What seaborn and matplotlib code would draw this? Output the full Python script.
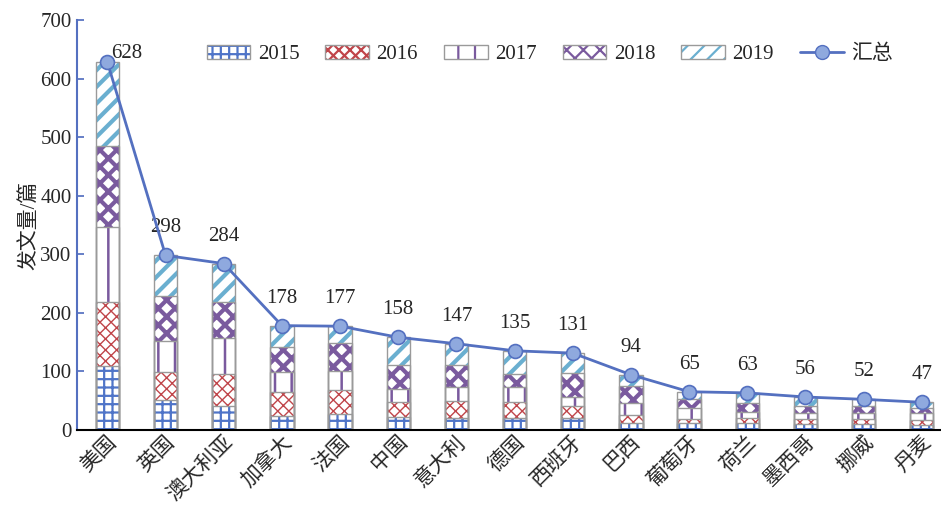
import numpy as np
import matplotlib
matplotlib.use("Agg")
import matplotlib.pyplot as plt
from matplotlib.patches import Patch
from matplotlib.lines import Line2D
from matplotlib.legend_handler import HandlerTuple
import seaborn as sns

countries = ["美国", "英国", "澳大利亚", "加拿大", "法国", "中国", "意大利", "德国",
             "西班牙", "巴西", "葡萄牙", "荷兰", "墨西哥", "挪威", "丹麦"]
years = ["2015", "2016", "2017", "2018", "2019"]
y2015 = [109, 51, 41, 23, 27, 21, 20, 20, 20, 12, 11, 11, 9, 10, 8]
y2016 = [110, 48, 55, 41, 41, 26, 30, 27, 20, 14, 7, 9, 9, 8, 8]
y2017 = [128, 53, 61, 35, 33, 23, 23, 26, 16, 19, 19, 11, 11, 10, 12]
y2018 = [138, 77, 61, 43, 47, 41, 38, 23, 41, 29, 15, 14, 11, 12, 10]
y2019 = [143, 69, 66, 36, 29, 47, 36, 39, 34, 20, 13, 18, 16, 12, 9]
total = [628, 298, 284, 178, 177, 158, 147, 135, 131, 94, 65, 63, 56, 52, 47]
total_label = "汇总"
ylabel = "发文量/篇"

sns.set_theme(style="white")
plt.rcParams["font.family"] = ["Liberation Serif", "Noto Sans CJK SC", "DejaVu Sans"]
plt.rcParams["hatch.linewidth"] = 1.6

FS = 15
series = [y2015, y2016, y2017, y2018, y2019]
colors = ["#4F74C8", "#C0454A", "#7A5A9E", "#7A5A9E", "#6AAFD0"]
hatches = ["++", "xxx", "|", "xx", "//"]
hlw = [1.6, 1.0, 1.8, 3.0, 3.0]
outline = "#9A9A9A"

fig = plt.figure(figsize=(9.41, 5.05), dpi=100)
ax = fig.add_axes([0.082, 0.149, 0.918, 0.811])

cum = np.cumsum(np.array(series), axis=0)
for i in range(len(series) - 1, -1, -1):
    with plt.rc_context({"hatch.linewidth": hlw[i]}):
        sns.barplot(x=countries, y=cum[i], color="white", saturation=1,
                    edgecolor=colors[i], linewidth=0, hatch=hatches[i],
                    width=0.4, errorbar=None, ax=ax)
for i in range(len(series)):
    sns.barplot(x=countries, y=cum[i], fill=False, edgecolor=outline,
                linewidth=1.0, width=0.4, errorbar=None, ax=ax)

xs = np.arange(len(countries))
sns.lineplot(x=xs, y=total, color="#5470C0", linewidth=2, marker="o",
             markersize=10, markerfacecolor="#8FA9DE", markeredgecolor="#5470C0",
             markeredgewidth=1.2, ax=ax, zorder=5)

for i, (x, t) in enumerate(zip(xs, total)):
    if i == 0:
        ax.annotate(str(t), (x, t), xytext=(14, 6), textcoords="offset points",
                    ha="center", va="center", fontsize=FS)
    else:
        ax.annotate(str(t), (x, t), xytext=(0, 13), textcoords="offset points",
                    ha="center", va="bottom", fontsize=FS)

ax.set_ylim(0, 700)
ax.set_xlim(-0.52, 14.33)
ax.set_yticks(range(0, 701, 100))
ax.set_ylabel(ylabel, fontsize=FS, labelpad=1)
ax.set_xlabel("")
ax.tick_params(axis="y", direction="in", length=5, color="#5470C0", labelsize=FS, left=True, pad=4)
ax.tick_params(axis="x", length=0, labelsize=FS, pad=2)
for lab in ax.get_xticklabels():
    lab.set_rotation(45)
    lab.set_ha("right")
    lab.set_rotation_mode("anchor")

sns.despine(ax=ax, top=True, right=True)
ax.spines["left"].set_color("#5470C0")
ax.spines["left"].set_linewidth(1.5)
ax.spines["bottom"].set_color("black")
ax.spines["bottom"].set_linewidth(1.5)

handles = []
for i in range(5):
    with plt.rc_context({"hatch.linewidth": hlw[i]}):
        hp = Patch(facecolor="white", edgecolor=colors[i], hatch=hatches[i], linewidth=0)
    op = Patch(fill=False, edgecolor=outline, linewidth=1.0)
    handles.append((hp, op))
handles.append(Line2D([0], [0], color="#5470C0", linewidth=2, marker="o", markersize=10,
                      markerfacecolor="#8FA9DE", markeredgecolor="#5470C0"))
labels = years + [total_label]
ax.legend(handles, labels, ncol=6, frameon=False, fontsize=FS, loc="upper left",
          bbox_to_anchor=(0.15, 0.94), borderaxespad=0, borderpad=0,
          handlelength=2.1, handleheight=0.7,
          columnspacing=1.25, handletextpad=0.35,
          handler_map={tuple: HandlerTuple(ndivide=1, pad=0)})

fig.savefig("out.png", dpi=100)
